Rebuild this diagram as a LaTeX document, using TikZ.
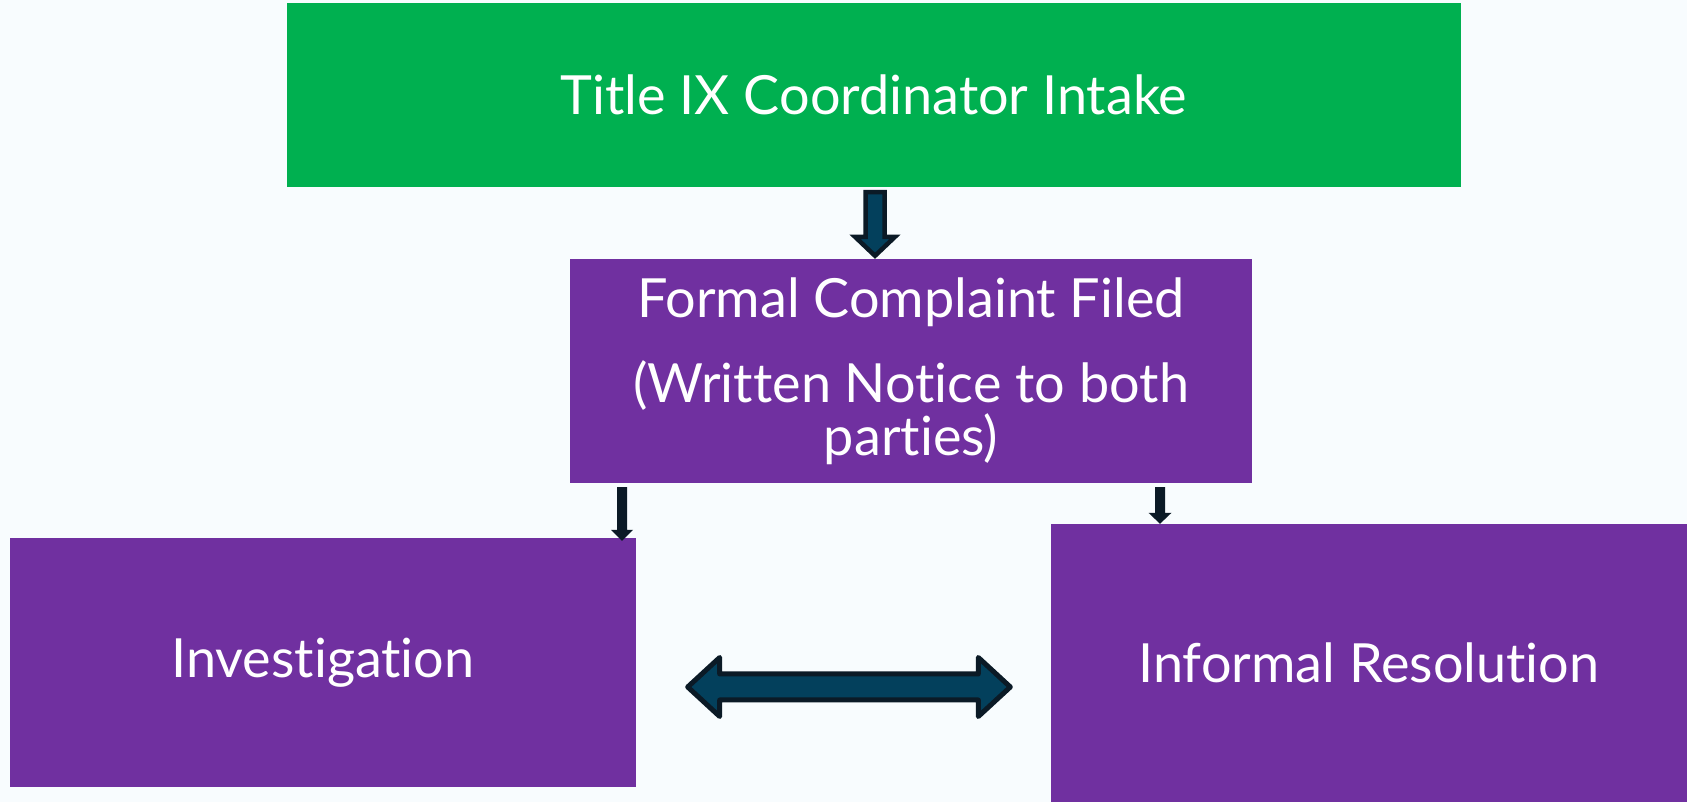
\documentclass[tikz,border=0pt]{standalone}
\usepackage{fontspec}
\setmainfont{Lato}[Ligatures={NoCommon}]
\usetikzlibrary{calc}

\definecolor{bgpale}{HTML}{F8FCFE}
\definecolor{officegreen}{HTML}{00B050}
\definecolor{officepurple}{HTML}{7030A0}
\definecolor{arrowteal}{HTML}{03405C}
\definecolor{arrowink}{HTML}{0B1A26}

\tikzset{
  box/.style={rectangle, inner sep=0pt, align=center, text=white,
    font=\fontsize{54}{48}\selectfont},
  greenbox/.style={box, fill=officegreen},
  purplebox/.style={box, fill=officepurple},
  blockarrow/.style={fill=arrowteal, draw=arrowink},
  thinarrow/.style={fill=arrowink, draw=none},
}

% vertical block arrow: style, start, tip, half shaft, half head, head length
\newcommand\downblock[6]{%
  \draw[#1] let \p1=(#2), \p2=(#3) in
    (\x1-#4,\y1) -- (\x1+#4,\y1) -- (\x1+#4,\y2+#6) -- (\x1+#5,\y2+#6)
    -- (\x1,\y2) -- (\x1-#5,\y2+#6) -- (\x1-#4,\y2+#6) -- cycle;}

% horizontal two-headed block arrow: style, left tip, right tip, half shaft, half head, head length
\newcommand\sideblock[6]{%
  \draw[#1] let \p1=(#2), \p2=(#3) in
    (\x1,\y1) -- (\x1+#6,\y1+#5) -- (\x1+#6,\y1+#4) -- (\x2-#6,\y1+#4)
    -- (\x2-#6,\y1+#5) -- (\x2,\y1) -- (\x2-#6,\y1-#5) -- (\x2-#6,\y1-#4)
    -- (\x1+#6,\y1-#4) -- (\x1+#6,\y1-#5) -- cycle;}

\begin{document}
\begin{tikzpicture}[x=1pt,y=1pt]
\fill[bgpale] (0,0) rectangle (1687,802);
\useasboundingbox (0,0) rectangle (1687,802);

\node[greenbox, minimum width=1174pt, minimum height=184pt] (intake) at (874,707)
  {Title IX Coordinator Intake};
\node[purplebox, minimum width=682pt, minimum height=224pt] (formal) at (911,431)
  {Formal Complaint Filed\\[33pt](Written Notice to both\\[2pt]parties)};
\node[purplebox, minimum width=626pt, minimum height=249pt] (invest) at (323,139.5)
  {Investigation};
\node[purplebox, minimum width=636pt, minimum height=278pt] (informal) at (1369,139)
  {Informal Resolution};

% intake -> formal complaint
\coordinate (a1s) at ($(intake.south)+(1,-5)$);
\coordinate (a1e) at ($(formal.north)+(-36,3)$);
\downblock{blockarrow, line width=4.5pt, line join=miter}{a1s}{a1e}{9.5pt}{20pt}{19pt}

% formal complaint -> investigation
\coordinate (a2s) at ($(formal.south)+(-289,-4)$);
\coordinate (a2e) at ($(invest.north)+(299,-3)$);
\downblock{thinarrow}{a2s}{a2e}{5pt}{11pt}{11pt}

% formal complaint -> informal resolution
\coordinate (a3s) at ($(formal.south)+(249,-4)$);
\coordinate (a3e) at ($(informal.north)+(-209,0)$);
\downblock{thinarrow}{a3s}{a3e}{5pt}{11.5pt}{11pt}

% investigation <-> informal resolution
\coordinate (dl) at ($(invest.east)+(51.5,-24.5)$);
\coordinate (dr) at ($(informal.west)+(-40.5,-24)$);
\sideblock{blockarrow, line width=5pt, line join=round}{dl}{dr}{13pt}{29.5pt}{32pt}
\end{tikzpicture}
\end{document}
